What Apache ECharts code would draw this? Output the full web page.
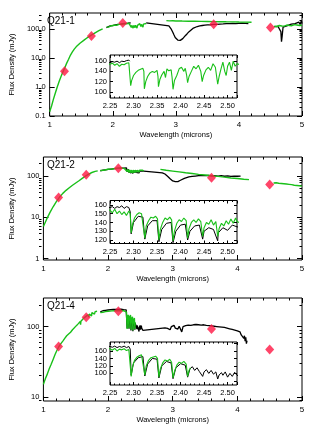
<!DOCTYPE html>
<html><head><meta charset="utf-8">
<script src="https://cdn.jsdelivr.net/npm/echarts@6/dist/echarts.min.js"></script>
<style>html,body{margin:0;padding:0;background:#fff}#c{width:315px;height:428px}</style>
</head><body><div id="c"></div>
<script>
// ---------------- DATA ----------------
const panelNames = ['Q21-1', 'Q21-2', 'Q21-4'];
const xTicks = [1, 2, 3, 4, 5];
const insetXTicks = [2.25, 2.30, 2.35, 2.40, 2.45, 2.50];
const yTicksMain = [[0.1, 1, 10, 100], [1, 10, 100], [10, 100]];
const yRangeMain = [[0.1, 350], [0.92, 290], [8.7, 255]];
const yTicksInset = [[100, 120, 140, 160], [120, 130, 140, 150, 160], [80, 100, 120, 140, 160, 180]];
const yRangeInset = [[88, 172], [116, 165], [69, 184]];
const minorMantissa = [2, 3, 4, 5, 6, 7, 8, 9];

// Panel 1 (Q21-1)
const p1GreenJH = [[1.00,0.14],[1.03,0.22],[1.06,0.38],[1.09,0.62],[1.12,1.0],[1.15,1.55],[1.18,2.3],[1.21,3.3],[1.24,4.6],[1.27,6.6],[1.30,9.0],[1.33,12.5],[1.36,16],[1.39,20],[1.42,24],[1.45,28],[1.48,32],[1.51,36],[1.54,40],[1.57,45],[1.60,50],[1.63,55],[1.66,61],[1.69,67],[1.72,73],[1.75,79],[1.78,86],[1.81,93],[1.84,100]];
const p1GreenK = [[1.90,112],[1.92,120],[1.94,117],[1.96,125],[1.98,128],[2.00,124],[2.02,132],[2.04,135],[2.06,133],[2.08,140],[2.10,142],[2.12,140],[2.14,146],[2.16,148],[2.18,147],[2.20,151],[2.22,150],[2.24,153],
 [2.250,154],[2.255,156],[2.260,152],[2.265,155],[2.270,150],[2.275,154],[2.280,153],[2.285,156],[2.290,157],[2.293,155],[2.294,112],[2.296,122],[2.300,132],[2.305,138],[2.310,142],[2.315,144],[2.320,146],[2.322,140],[2.323,106],[2.326,120],[2.330,130],[2.335,137],[2.340,140],[2.345,138],[2.350,142],[2.352,130],[2.353,110],[2.356,124],[2.360,133],[2.365,140],[2.368,128],[2.371,145],[2.375,141],[2.380,143],[2.382,128],[2.384,105],[2.387,122],[2.392,132],[2.397,145],[2.402,148],[2.407,140],[2.410,146],[2.413,132],[2.415,118],[2.418,130],[2.423,140],[2.428,150],[2.433,145],[2.438,152],[2.443,140],[2.446,120],[2.449,132],[2.454,143],[2.459,148],[2.464,142],[2.469,155],[2.474,148],[2.477,128],[2.479,115],[2.482,130],[2.486,145],[2.490,158],[2.494,140],[2.497,132],[2.500,150],[2.504,158],[2.508,142],[2.512,160],[2.516,150],[2.520,155],[2.530,152]];
const p1GreenL = [[2.85,192],[2.88,196],[2.90,188],[2.95,190],[3.00,186],[3.05,188],[3.10,185],[3.20,183],[3.30,182],[3.40,180],[3.50,179],[3.60,177],[3.70,176],[3.80,174],[3.90,173],[4.00,171],[4.10,170],[4.20,168]];
const p1GreenM = [[4.56,122],[4.58,128],[4.60,120],[4.62,126],[4.64,130],[4.66,118],[4.68,125],[4.70,132],[4.72,124],[4.74,128],[4.76,135],[4.78,126],[4.80,130],[4.82,138],[4.84,128],[4.86,132],[4.88,140],[4.90,127],[4.92,135],[4.94,142],[4.96,130],[4.98,138],[5.00,133]];
const p1Black = [[1.90,110],[1.93,121],[1.96,126],[2.00,128],[2.04,136],[2.08,141],[2.12,143],[2.16,150],[2.20,153],[2.24,156],[2.250,157],[2.255,159],[2.260,158],[2.265,160],[2.270,157],[2.275,160],[2.280,159],[2.285,161],[2.290,162],[2.292,160],[2.40,'-'],
 [2.53,160],[2.89,126],[2.91,112],[2.93,95],[2.95,78],[2.97,62],[2.99,50],[3.01,44],[3.03,41],[3.05,39],[3.07,40],[3.09,42],[3.11,46],[3.13,52],[3.15,58],[3.18,68],[3.21,80],[3.24,92],[3.27,103],[3.30,112],[3.34,120],[3.38,126],[3.42,130],[3.46,134],[3.50,136],[3.55,138],[3.60,141],[3.65,143],[3.70,146],[3.75,147],[3.80,150],[3.85,151],[3.90,153],[3.95,152],[4.00,155],[4.05,156],[4.10,154],[4.15,152],[4.30,'-'],
 [4.56,118],[4.59,124],[4.62,120],[4.65,115],[4.665,80],[4.675,36],[4.685,55],[4.70,115],[4.73,125],[4.77,128],[4.80,120],[4.83,145],[4.86,125],[4.89,150],[4.92,135],[4.95,170],[4.97,140],[4.99,190],[5.00,150]];
const p1Phot = [[1.235,3.5],[1.662,57],[2.159,160],[3.6,143],[4.5,110]];

// Panel 2 (Q21-2)
const p2GreenJH = [[1.00,6],[1.05,9],[1.10,13],[1.15,18],[1.20,24],[1.25,31],[1.30,38],[1.35,45],[1.40,52],[1.45,60],[1.50,68],[1.55,77],[1.60,88],[1.65,100],[1.70,112],[1.75,122],[1.80,130],[1.84,134]];
const p2GreenK = [[1.88,136],[1.90,140],[1.93,138],[1.96,143],[2.00,146],[2.03,149],[2.06,148],[2.10,152],[2.13,154],[2.16,155],[2.19,153],[2.22,156],[2.24,154],
 [2.250,154],[2.255,151],[2.260,155],[2.265,150],[2.270,153],[2.275,149],[2.280,152],[2.285,148],[2.290,153],[2.293,150],[2.295,128],[2.298,138],[2.302,145],[2.307,149],[2.312,151],[2.317,150],[2.321,148],[2.324,122],[2.327,136],[2.332,142],[2.337,146],[2.342,145],[2.347,147],[2.351,144],[2.354,120],[2.357,132],[2.362,140],[2.367,145],[2.372,143],[2.377,146],[2.381,143],[2.384,119],[2.387,130],[2.392,139],[2.397,143],[2.402,141],[2.407,145],[2.412,142],[2.415,122],[2.418,133],[2.423,140],[2.428,143],[2.433,140],[2.438,144],[2.443,141],[2.447,124],[2.450,134],[2.455,140],[2.460,138],[2.465,143],[2.470,137],[2.475,141],[2.479,124],[2.482,133],[2.487,139],[2.492,136],[2.497,142],[2.502,138],[2.507,144],[2.512,139],[2.517,145],[2.520,141],[2.535,138],[2.55,132]];
const p2GreenL = [[2.81,145],[2.90,138],[3.00,132],[3.10,126],[3.20,120],[3.30,115],[3.40,110],[3.50,106],[3.60,102],[3.70,98],[3.80,94],[3.90,90],[4.00,87],[4.10,84],[4.18,82]];
const p2GreenM = [[4.56,68],[4.58,66],[4.60,69],[4.62,65],[4.64,67],[4.66,64],[4.68,66],[4.70,63],[4.72,65],[4.74,62],[4.76,64],[4.78,61],[4.80,63],[4.82,60],[4.84,62],[4.86,59],[4.88,60],[4.90,57],[4.92,59],[4.94,56],[4.96,58],[4.98,55],[5.00,57]];
const p2Black = [[1.88,134],[1.92,139],[1.96,142],[2.00,145],[2.05,148],[2.10,151],[2.15,153],[2.20,155],[2.24,156],[2.250,157],[2.255,158],[2.260,156],[2.265,158],[2.270,157],[2.275,159],[2.280,156],[2.285,158],[2.290,157],[2.293,152],[2.295,127],[2.30,140],[2.31,147],[2.32,146],[2.324,121],[2.33,136],[2.34,142],[2.35,142],[2.354,118],[2.36,132],[2.37,139],[2.38,140],[2.384,117],[2.39,130],[2.40,137],[2.41,138],[2.415,120],[2.42,130],[2.43,136],[2.44,137],[2.447,121],[2.45,130],[2.46,134],[2.47,132],[2.479,119],[2.48,128],[2.49,134],[2.50,131],[2.51,137],[2.52,135],[2.55,132],
 [2.84,120],[2.86,116],[2.88,112],[2.90,106],[2.92,99],[2.94,92],[2.96,86],[2.98,80],[3.00,76],[3.02,74],[3.04,73],[3.06,72.5],[3.08,73.5],[3.10,76],[3.12,79],[3.15,84],[3.18,88],[3.21,92],[3.25,95],[3.30,98],[3.35,100],[3.40,102],[3.45,103],[3.50,102],[3.55,104],[3.60,101],[3.65,103],[3.70,100],[3.75,102],[3.80,99],[3.85,101],[3.90,98],[3.95,100],[4.00,99],[4.03,102],[4.05,100]];
const p2Phot = [[1.235,30],[1.662,108],[2.159,155],[3.6,91],[4.5,62]];

// Panel 3 (Q21-4)
const p3GreenJH = [[1.00,15],[1.03,18],[1.06,21],[1.09,25],[1.12,29],[1.15,34],[1.18,40],[1.21,46],[1.24,52],[1.27,57],[1.30,62],[1.33,68],[1.36,74],[1.39,78],[1.42,83],[1.45,90],[1.48,96],[1.51,103],[1.54,110],[1.57,118],[1.575,106],[1.58,119],[1.60,126],[1.63,133],[1.66,140],[1.69,147],[1.70,136],[1.71,150],[1.72,153],[1.745,142],[1.75,158],[1.78,162],[1.79,150],[1.80,163],[1.81,164],[1.83,165]];
const p3GreenK = [[1.88,158],[1.90,166],[1.92,160],[1.94,168],[1.96,163],[1.98,170],[2.00,165],[2.03,170],[2.06,167],[2.09,172],[2.12,168],[2.15,171],[2.18,169],[2.21,172],[2.24,168],
 [2.250,166],[2.255,162],[2.260,167],[2.265,160],[2.270,165],[2.275,163],[2.280,166],[2.285,161],[2.290,164],[2.293,160],[2.295,92],[2.298,118],[2.302,135],[2.307,143],[2.312,147],[2.317,150],[2.321,146],[2.324,95],[2.327,120],[2.332,135],[2.337,142],[2.342,144],[2.347,146],[2.351,140],[2.354,90],[2.357,112],[2.362,128],[2.367,136],[2.372,133],[2.377,138],[2.381,130],[2.384,88],[2.387,105],[2.392,122],[2.397,130],[2.402,127],[2.407,132],[2.412,125],[2.415,92],[2.418,108],[2.421,115]];
const p3Black = [[1.88,162],[1.92,168],[1.96,170],[2.00,172],[2.04,174],[2.08,175],[2.12,176],[2.16,175],[2.20,177],[2.24,174],[2.250,172],[2.255,170],[2.260,173],[2.265,169],[2.270,172],[2.275,170],[2.280,173],[2.285,169],[2.290,172],[2.293,165],[2.295,95],[2.30,128],[2.31,142],[2.32,145],[2.324,93],[2.33,125],[2.34,140],[2.35,138],[2.354,88],[2.36,120],[2.37,132],[2.38,128],[2.384,86],[2.39,115],[2.40,126],[2.41,122],[2.415,90],[2.42,112],[2.425,118],[2.43,108],[2.435,115],[2.44,105],[2.447,92],[2.45,104],[2.455,110],[2.46,100],[2.465,108],[2.47,98],[2.475,104],[2.479,85],[2.482,96],[2.487,102],[2.49,95],[2.495,104],[2.50,90],[2.505,100],[2.51,92],[2.515,103],[2.52,95],[2.53,92],[2.54,88],[2.55,86],
 [2.88,96],[2.90,102],[2.92,94],[2.94,99],[2.96,90],[2.98,100],[3.00,96],[3.02,104],[3.04,95],[3.06,99],[3.08,92],[3.10,101],[3.12,97],[3.14,84],[3.16,100],[3.18,96],[3.20,103],[3.22,98],[3.24,105],[3.26,99],[3.28,104],[3.30,100],[3.32,106],[3.34,101],[3.36,107],[3.38,102],[3.40,106],[3.42,100],[3.44,105],[3.46,99],[3.48,106],[3.50,102],[3.52,104],[3.54,98],[3.56,103],[3.58,97],[3.60,102],[3.62,96],[3.64,101],[3.66,97],[3.68,100],[3.70,95],[3.72,99],[3.74,94],[3.76,98],[3.78,93],[3.80,97],[3.82,92],[3.84,95],[3.86,90],[3.88,93],[3.90,88],[3.92,91],[3.94,87],[3.96,89],[3.98,85],[4.00,87],[4.02,82],[4.04,84],[4.06,76],[4.08,80],[4.10,68],[4.11,74],[4.12,62],[4.13,70],[4.14,57],[4.15,63]];
const p3Phot = [[1.235,52],[1.662,136],[2.159,165],[3.6,92],[4.5,47]];

const greenSets = [[p1GreenJH, p1GreenK, p1GreenL, p1GreenM], [p2GreenJH, p2GreenK, p2GreenL, p2GreenM], [p3GreenJH, p3GreenK]];
const blackSets = [p1Black, p2Black, p3Black];
const photSets = [p1Phot, p2Phot, p3Phot];

// ---------------- LAYOUT / STYLE ----------------
const FONT = 'Liberation Sans, Arial, sans-serif';
const GREEN = '#19c019', BLACK = '#000000', RED = '#ff1744';
const PL = 39, PW = 263, PH = 103;
const panelTop = [13, 157, 298];
const insetLeft = 110, insetW = 127, insetH = 43;
const insetTop = [55, 200.5, 342];

const grid = [], xAxis = [], yAxis = [], series = [], title = [];
const txt = {color: '#000', fontFamily: FONT};

function minorVals(range) {
  const out = [];
  for (let e = -2; e <= 3; e++) for (const m of minorMantissa) {
    const v = +(m * Math.pow(10, e)).toPrecision(3);
    if (v > range[0] && v < range[1]) out.push(v);
  }
  return out;
}

for (let i = 0; i < 3; i++) {
  const PHi = i === 0 ? 103 : (i === 1 ? 103 : 103);
  const gMain = grid.length;
  grid.push({left: PL, top: panelTop[i], width: PW, height: PHi, show: true, borderColor: '#000', borderWidth: 1, backgroundColor: 'transparent'});
  const gMinor = grid.length;
  grid.push({left: PL, top: panelTop[i], width: PW, height: PHi, show: false});
  const gInset = grid.length;
  grid.push({left: insetLeft, top: insetTop[i], width: insetW, height: insetH, show: true, borderColor: '#000', borderWidth: 1, backgroundColor: '#fff'});

  const fmt = i === 0 ? (v => Number(v).toFixed(1)) : (v => String(Number(v)));
  const xMainIdx = xAxis.length;
  const xBase = {type: 'value', min: 1, max: 5, interval: 1, axisLine: {show: false}, splitLine: {show: false},
    axisTick: {inside: true, length: 5, lineStyle: {color: '#000'}},
    minorTick: {show: true, splitNumber: 5, length: 2.5, lineStyle: {color: '#000'}}};
  xAxis.push(Object.assign({}, xBase, {gridIndex: gMain, position: 'bottom',
    axisLabel: Object.assign({fontSize: 8, margin: 5}, txt),
    name: 'Wavelength (microns)', nameLocation: 'middle', nameGap: 15,
    nameTextStyle: Object.assign({fontSize: 7.5}, txt)}));
  xAxis.push(Object.assign({}, xBase, {gridIndex: gMain, position: 'top', axisLabel: {show: false}}));
  xAxis.push({gridIndex: gMinor, type: 'value', min: 1, max: 5, show: false});
  const xInsetIdx = xAxis.length;
  const xiBase = {type: 'value', min: 2.25, max: 2.52, interval: 0.05, axisLine: {show: false}, splitLine: {show: false},
    axisTick: {inside: true, length: 3, lineStyle: {color: '#000'}},
    minorTick: {show: true, splitNumber: 5, length: 1.5, lineStyle: {color: '#000'}}};
  xAxis.push(Object.assign({}, xiBase, {gridIndex: gInset, position: 'bottom',
    axisLabel: Object.assign({fontSize: 7.5, margin: 4, showMaxLabel: false, formatter: v => Number(v).toFixed(2)}, txt)}));
  xAxis.push(Object.assign({}, xiBase, {gridIndex: gInset, position: 'top', axisLabel: {show: false}}));

  const yMainIdx = yAxis.length;
  const r = yRangeMain[i];
  const yb = {type: 'log', min: r[0], max: r[1], axisLine: {show: false}, splitLine: {show: false}};
  yAxis.push(Object.assign({}, yb, {gridIndex: gMain, position: 'left',
    axisTick: {inside: true, length: 5, customValues: yTicksMain[i], lineStyle: {color: '#000'}},
    axisLabel: Object.assign({fontSize: 7.5, margin: 4, customValues: yTicksMain[i], formatter: fmt}, txt),
    name: 'Flux Density (mJy)', nameLocation: 'middle', nameGap: i === 0 ? 23 : 22, nameRotate: 90,
    nameTextStyle: Object.assign({fontSize: 7.5}, txt)}));
  yAxis.push(Object.assign({}, yb, {gridIndex: gMain, position: 'right',
    axisTick: {inside: true, length: 5, customValues: yTicksMain[i], lineStyle: {color: '#000'}},
    axisLabel: {show: false}}));
  const mv = minorVals(r);
  yAxis.push(Object.assign({}, yb, {gridIndex: gMinor, position: 'left',
    axisTick: {inside: true, length: 2.5, customValues: mv, lineStyle: {color: '#000'}}, axisLabel: {show: false}}));
  yAxis.push(Object.assign({}, yb, {gridIndex: gMinor, position: 'right',
    axisTick: {inside: true, length: 2.5, customValues: mv, lineStyle: {color: '#000'}}, axisLabel: {show: false}}));
  const yInsetIdx = yAxis.length;
  const ri = yRangeInset[i];
  const yib = {type: 'value', min: ri[0], max: ri[1], axisLine: {show: false}, splitLine: {show: false}};
  yAxis.push(Object.assign({}, yib, {gridIndex: gInset, position: 'left',
    axisTick: {inside: true, length: 3, customValues: yTicksInset[i], lineStyle: {color: '#000'}},
    axisLabel: Object.assign({fontSize: 7.5, margin: 3, customValues: yTicksInset[i]}, txt)}));
  yAxis.push(Object.assign({}, yib, {gridIndex: gInset, position: 'right',
    axisTick: {inside: true, length: 3, customValues: yTicksInset[i], lineStyle: {color: '#000'}},
    axisLabel: {show: false}}));

  const mkLine = (data, color, xi, yi, z, w) => ({type: 'line', data: data, xAxisIndex: xi, yAxisIndex: yi,
    symbol: 'none', showSymbol: false, connectNulls: false, clip: true, silent: true, z: z,
    lineStyle: {color: color, width: w}});
  series.push(mkLine(blackSets[i], BLACK, xMainIdx, yMainIdx, 2, 1.3));
  greenSets[i].forEach(d => series.push(mkLine(d, GREEN, xMainIdx, yMainIdx, 3, 1.4)));
  series.push({type: 'scatter', data: photSets[i], xAxisIndex: xMainIdx, yAxisIndex: yMainIdx,
    symbol: 'diamond', symbolSize: [9, 10], itemStyle: {color: RED}, z: 5, silent: true});
  series.push(mkLine(blackSets[i], BLACK, xInsetIdx, yInsetIdx, 6, 1));
  greenSets[i].forEach(d => series.push(mkLine(d, GREEN, xInsetIdx, yInsetIdx, 7, 1.1)));

  title.push({text: panelNames[i], left: 47, top: panelTop[i] + 3, padding: 0,
    textStyle: {fontSize: 10, fontWeight: 'normal', color: '#000', fontFamily: FONT}});
}

const chart = echarts.init(document.getElementById('c'), null, {renderer: 'canvas'});
chart.setOption({animation: false, backgroundColor: '#fff', title, grid, xAxis, yAxis, series});
</script></body></html>
